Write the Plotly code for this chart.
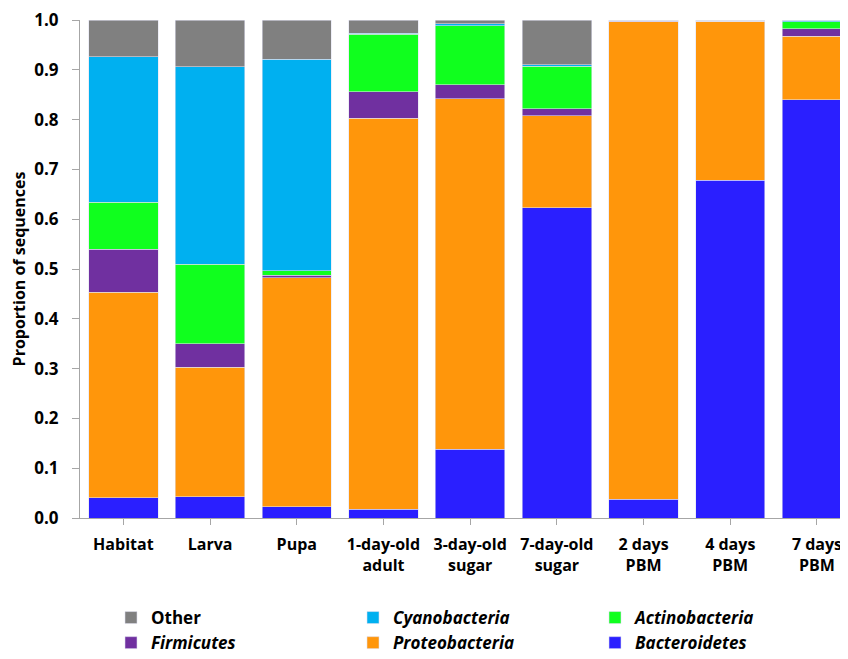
import plotly.graph_objects as go

categories = ["Habitat", "Larva", "Pupa", "1-day-old<br>adult", "3-day-old<br>sugar",
              "7-day-old<br>sugar", "2 days<br>PBM", "4 days<br>PBM", "7 days<br>PBM"]

bacteroidetes = [0.041, 0.043, 0.023, 0.018, 0.138, 0.623, 0.038, 0.678, 0.840]
proteobacteria = [0.412, 0.260, 0.459, 0.785, 0.704, 0.185, 0.958, 0.319, 0.127]
firmicutes = [0.087, 0.047, 0.005, 0.053, 0.028, 0.014, 0.001, 0.000, 0.015]
actinobacteria = [0.094, 0.160, 0.009, 0.115, 0.118, 0.085, 0.003, 0.003, 0.014]
cyanobacteria = [0.292, 0.396, 0.425, 0.002, 0.004, 0.003, 0.000, 0.000, 0.004]
other = [0.074, 0.094, 0.079, 0.027, 0.008, 0.090, 0.000, 0.000, 0.000]

y_ticks = [0.0, 0.1, 0.2, 0.3, 0.4, 0.5, 0.6, 0.7, 0.8, 0.9, 1.0]

series = [
    ("<i>Bacteroidetes</i>", bacteroidetes, "#2A1FFF"),
    ("<i>Proteobacteria</i>", proteobacteria, "#FF960B"),
    ("<i>Firmicutes</i>", firmicutes, "#7030A0"),
    ("<i>Actinobacteria</i>", actinobacteria, "#10FF1E"),
    ("<i>Cyanobacteria</i>", cyanobacteria, "#00B0F0"),
    ("Other", other, "#808080"),
]

FONT = "Open Sans"
W, H = 840, 651  # page body adds an 8px offset inside the 848x659 window

fig = go.Figure()
for name, vals, color in series:
    fig.add_trace(go.Bar(
        x=list(range(len(categories))), y=vals, name=name,
        marker=dict(color=color, line=dict(color="rgba(225,225,240,0.7)", width=0.8)),
    ))

fig.update_layout(
    width=W, height=H,
    barmode="stack", bargap=0.2,
    plot_bgcolor="white", paper_bgcolor="white",
    margin=dict(l=72, r=0, t=7, b=141),
    font=dict(family=FONT, color="black"),
    showlegend=True,
    legend=dict(
        orientation="h", traceorder="reversed",
        xref="container", yref="container",
        x=103 / W, xanchor="left", y=1 - 592 / H, yanchor="top",
        entrywidth=197, entrywidthmode="pixels",
        font=dict(family=FONT, size=17, weight="bold", color="black"),
        tracegroupgap=0, itemwidth=30,
    ),
)

fig.update_xaxes(
    range=[-0.5, 8.358],
    tickmode="array", tickvals=list(range(len(categories))), ticktext=categories,
    tickson="boundaries", ticks="outside", ticklen=6, tickcolor="#A6A6A6",
    showline=True, linecolor="#A6A6A6", linewidth=1,
    showgrid=False, zeroline=False, ticklabelstandoff=6,
    ticklabeloverflow="allow",
    tickfont=dict(family=FONT, size=16, weight="bold", color="black"),
)

fig.update_yaxes(
    range=[0, 1.0],
    tickmode="array", tickvals=y_ticks, ticktext=[f"{v:.1f}" for v in y_ticks],
    ticks="outside", ticklen=7, tickcolor="#A6A6A6",
    showline=True, linecolor="#A6A6A6", linewidth=1,
    showgrid=False, zeroline=False, ticklabelstandoff=10,
    ticklabeloverflow="allow",
    tickfont=dict(family=FONT, size=17, weight="bold", color="black"),
    title=dict(text="Proportion of sequences", standoff=6,
               font=dict(family=FONT, size=16, weight="bold", color="black")),
)

fig.write_html("out.html")
